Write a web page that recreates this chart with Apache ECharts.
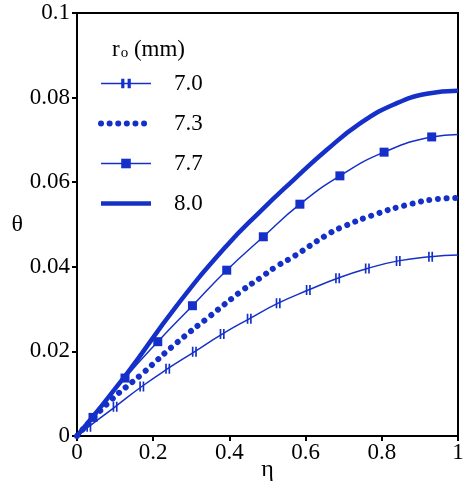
<!DOCTYPE html>
<html>
<head>
<meta charset="utf-8">
<script src="https://cdn.jsdelivr.net/npm/echarts@6/dist/echarts.min.js"></script>
<style>
    html, body { margin: 0; padding: 0; background: #fff; }
    #chart { width: 464px; height: 484px; }
</style>
</head>
<body>
<div id="chart"></div>
<script>
// 数据
const seriesNames = ['7.0', '7.3', '7.7', '8.0'];

const eta70 = [0, 0.031, 0.100, 0.170, 0.238, 0.308, 0.381, 0.452, 0.528, 0.607, 0.684, 0.762, 0.843, 0.928, 1.0];
const theta70 = [0, 0.0022, 0.0069, 0.0117, 0.0159, 0.0199, 0.0241, 0.0277, 0.0314, 0.0345, 0.0373, 0.0396, 0.0414, 0.0424, 0.0428];

const eta73 = [0, 0.085, 0.172, 0.260, 0.347, 0.435, 0.480, 0.522, 0.568, 0.655, 0.699, 0.786, 0.874, 0.944, 1.0];
const theta73 = [0, 0.0081, 0.0148, 0.0219, 0.0282, 0.0345, 0.0373, 0.0400, 0.0424, 0.0475, 0.0495, 0.0525, 0.0548, 0.0560, 0.0563];

const eta77 = [0, 0.042, 0.126, 0.212, 0.303, 0.393, 0.489, 0.585, 0.690, 0.806, 0.931, 1.0];
const theta77 = [0, 0.0044, 0.0137, 0.0223, 0.0308, 0.0392, 0.0471, 0.0548, 0.0615, 0.0671, 0.0707, 0.0713];

const eta80 = [0, 0.129, 0.260, 0.391, 0.480, 0.568, 0.655, 0.743, 0.830, 0.918, 1.0];
const theta80 = [0, 0.0145, 0.0306, 0.0448, 0.0530, 0.0605, 0.0676, 0.0739, 0.0783, 0.0809, 0.0816];

const xTicks = { min: 0, max: 1, interval: 0.2 };
const yTicks = { min: 0, max: 0.1, interval: 0.02 };

const blue = '#1530c8';
const font = '"Liberation Serif", "DejaVu Serif", serif';

// 首尾端点不画标记
function pairs(xs, ys) {
    return xs.map((x, i) => {
        const last = i === 0 || i === xs.length - 1;
        return last ? { value: [x, ys[i]], symbol: 'none' } : [x, ys[i]];
    });
}

const chart = echarts.init(document.getElementById('chart'));
chart.setOption({
    backgroundColor: '#fff',
    animation: false,
    textStyle: { fontFamily: font, color: '#000' },
    grid: {
        left: 77, right: 6, top: 13, bottom: 48,
        outerBoundsMode: 'none',
        containLabel: false,
        show: true,
        borderColor: '#000',
        borderWidth: 2
    },
    graphic: [{
        type: 'text',
        left: 112,
        top: 38,
        style: {
            text: '{r|r}{s|o}{r| (mm)}',
            rich: {
                r: { fontFamily: font, fontSize: 23, fill: '#000', verticalAlign: 'bottom' },
                s: { fontFamily: font, fontSize: 15, fill: '#000', padding: [10, 0, 0, 1] }
            }
        }
    }],
    legend: {
        orient: 'vertical',
        left: 98,
        top: 72,
        padding: 0,
        itemWidth: 50,
        itemHeight: 12,
        itemGap: 17,
        lineStyle: { width: 'inherit' },
        data: [
            { name: '7.0' },
            { name: '7.3', itemStyle: { opacity: 0 } },
            { name: '7.7' },
            { name: '8.0', itemStyle: { opacity: 0 } }
        ],
        textStyle: {
            fontFamily: font,
            fontSize: 23,
            lineHeight: 23,
            color: '#000',
            padding: [0, 0, 0, 18]
        }
    },
    xAxis: {
        type: 'value',
        min: xTicks.min,
        max: xTicks.max,
        interval: xTicks.interval,
        name: 'η',
        nameLocation: 'middle',
        nameGap: 22,
        nameMoveOverlap: false,
        nameTextStyle: { fontFamily: font, fontSize: 24, color: '#000' },
        axisLine: { lineStyle: { color: '#000', width: 2 } },
        axisTick: { length: 5, lineStyle: { color: '#000', width: 2 } },
        axisLabel: { fontFamily: font, fontSize: 23, color: '#000', margin: 5 },
        splitLine: { show: false }
    },
    yAxis: {
        type: 'value',
        min: yTicks.min,
        max: yTicks.max,
        interval: yTicks.interval,
        name: 'θ',
        nameLocation: 'middle',
        nameRotate: 0,
        nameGap: 54,
        nameMoveOverlap: false,
        nameTextStyle: { fontFamily: font, fontSize: 24, color: '#000' },
        axisLine: { lineStyle: { color: '#000', width: 2 } },
        axisTick: { length: 5, lineStyle: { color: '#000', width: 2 } },
        axisLabel: { fontFamily: font, fontSize: 23, color: '#000', margin: 7 },
        splitLine: { show: false }
    },
    series: [
        {
            name: '7.0',
            type: 'line',
            smooth: true,
            data: pairs(eta70, theta70),
            symbol: 'path://M0,0h2v10h-2z M4,0h2v10h-2z',
            symbolSize: [5, 10],
            showAllSymbol: true,
            color: blue,
            lineStyle: { color: blue, width: 1.5 },
            z: 3
        },
        {
            name: '7.3',
            type: 'line',
            smooth: true,
            data: eta73.map((x, i) => [x, theta73[i]]),
            symbol: 'none',
            color: blue,
            lineStyle: { color: blue, width: 6, type: [0.01, 8.6], cap: 'round' },
            z: 2
        },
        {
            name: '7.7',
            type: 'line',
            smooth: true,
            data: pairs(eta77, theta77),
            symbol: 'rect',
            symbolSize: 9,
            showAllSymbol: true,
            color: blue,
            lineStyle: { color: blue, width: 1.5 },
            z: 4
        },
        {
            name: '8.0',
            type: 'line',
            smooth: true,
            data: eta80.map((x, i) => [x, theta80[i]]),
            symbol: 'none',
            color: blue,
            lineStyle: { color: blue, width: 4.5 },
            z: 5
        }
    ]
});
</script>
</body>
</html>
